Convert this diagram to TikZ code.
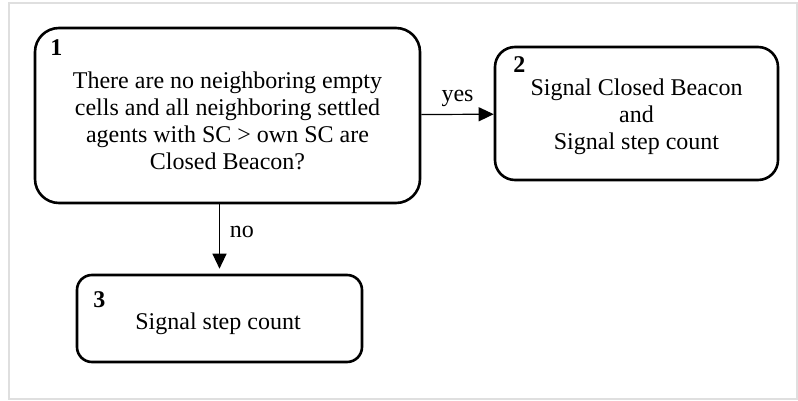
\documentclass[tikz,border=0pt]{standalone}
\usepackage{fontspec}
\setmainfont{Liberation Serif}
\usetikzlibrary{arrows.meta}

\tikzset{
  stepbox/.style={draw, line width=1.3pt, inner sep=0pt},
  boxtext/.style={align=center, inner sep=0pt, font=\fontsize{12}{13.5}\selectfont},
  boxnum/.style={anchor=base west, inner sep=0pt, font=\fontsize{12}{13.5}\selectfont\bfseries},
  flow/.style={line width=0.6pt, -{Triangle[length=7.5pt,width=7pt]}},
  answer/.style={font=\fontsize{12}{13.5}\selectfont}
}

\begin{document}
\begin{tikzpicture}[x=0.5pt, y=-0.5pt]
  \useasboundingbox (0,0) rectangle (798,401);
  \draw[gray!25, line width=1pt] (9,3) rectangle (797,399);

  % decision
  \node[stepbox, minimum width=192.5pt, minimum height=87.5pt, rounded corners=12pt]
    (check) at (227.5,115.5) {};
  \node[boxnum] (checknum) at (50,56) {1};
  \node[boxtext, anchor=north] (checktext) at (227.5,71)
    {There are no neighboring empty\\cells and all neighboring settled\\agents with SC > own SC are\\Closed Beacon?};

  % yes branch
  \node[stepbox, minimum width=141.5pt, minimum height=66.5pt, rounded corners=10pt]
    (closed) at (636.5,113.5) {};
  \node[boxnum] (closednum) at (513,73) {2};
  \node[boxtext, anchor=north] (closedtext) at (636.5,78.5)
    {Signal Closed Beacon\\and\\Signal step count};

  % no branch
  \node[stepbox, minimum width=142.5pt, minimum height=43.5pt, rounded corners=7.5pt]
    (count) at (219.5,318.5) {};
  \node[boxnum] (countnum) at (93,307) {3};
  \node[boxtext, anchor=north] (counttext) at (218,312)
    {Signal step count};

  \draw[flow] (check) -- node[answer, above] {yes} (closed);
  \draw[flow, shorten >=2.5pt] (check.south -| count.north) -- node[answer, right, pos=0.4, xshift=1.5pt] {no} (count.north);
\end{tikzpicture}
\end{document}
